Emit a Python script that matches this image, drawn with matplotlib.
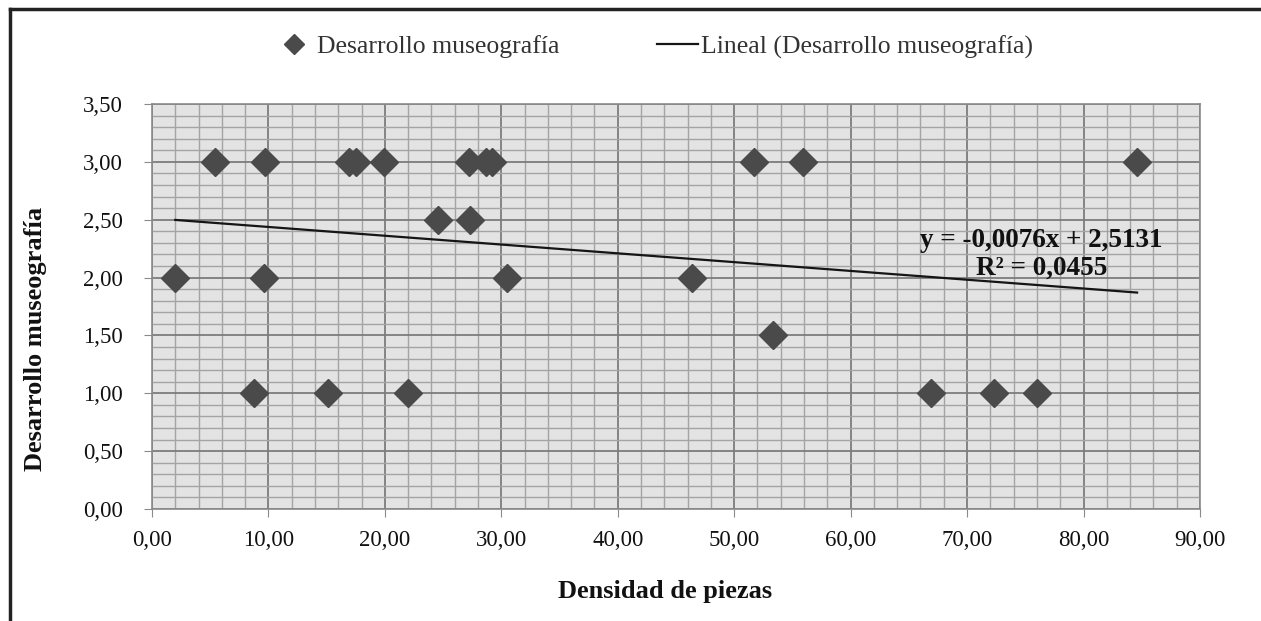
import matplotlib
matplotlib.use("Agg")
import matplotlib.pyplot as plt
from matplotlib.lines import Line2D
from matplotlib.ticker import MultipleLocator, FuncFormatter

# datos
densidad = [2.0, 5.4, 9.7, 9.6, 8.8, 16.9, 17.5, 19.9, 15.1, 22.0, 24.6, 27.3,
            27.2, 28.7, 29.2, 30.5, 46.4, 51.7, 53.3, 55.9, 66.9, 72.3, 76.0, 84.6]
museografia = [2.0, 3.0, 3.0, 2.0, 1.0, 3.0, 3.0, 3.0, 1.0, 1.0, 2.5, 2.5,
               3.0, 3.0, 3.0, 2.0, 2.0, 3.0, 1.5, 3.0, 1.0, 1.0, 1.0, 3.0]

# linea de tendencia (ecuacion del grafico)
pendiente = -0.0076
ordenada = 2.5131
r2 = 0.0455

serif = ["Liberation Serif", "DejaVu Serif"]
plt.rcParams["font.family"] = serif

def coma(v, pos=None):
    return f"{v:.2f}".replace(".", ",")

fig = plt.figure(figsize=(12.61, 6.21), dpi=100)
ax = fig.add_axes([0.1205, 0.1804, 0.8311, 0.6522])
ax.set_facecolor("#e3e3e3")

ax.set_xlim(0, 90)
ax.set_ylim(0, 3.5)
ax.xaxis.set_major_locator(MultipleLocator(10))
ax.xaxis.set_minor_locator(MultipleLocator(2))
ax.yaxis.set_major_locator(MultipleLocator(0.5))
ax.yaxis.set_minor_locator(MultipleLocator(0.1))
ax.xaxis.set_major_formatter(FuncFormatter(coma))
ax.yaxis.set_major_formatter(FuncFormatter(coma))

ax.set_axisbelow(True)
ax.grid(which="major", color="#7c7c7c", lw=1.3)
ax.grid(which="minor", color="#a4a4a4", lw=1.0)
for s in ax.spines.values():
    s.set_color("#8a8a8a")
    s.set_linewidth(1.2)
ax.tick_params(which="major", length=6, color="#8a8a8a", labelsize=16.5,
               labelcolor="#111111")
ax.tick_params(axis="y", pad=15)
ax.tick_params(axis="x", pad=9)
ax.tick_params(which="minor", length=0)

ax.plot(densidad, museografia, linestyle="none", marker="D", markersize=14,
        color="#4a4a4a", markeredgecolor="#4a4a4a")

xs = [min(densidad), max(densidad)]
ax.plot(xs, [pendiente * v + ordenada for v in xs], color="#151515", lw=1.6)

eq = f"y = {pendiente:.4f}x + {ordenada:.4f}".replace(".", ",")
ax.text(76.4, 2.2, eq + "\n" + f"R² = {r2:.4f}".replace(".", ","),
        ha="center", va="center", fontsize=19.5, fontweight="bold",
        color="#111111", linespacing=1.12)

ax.set_xlabel("Densidad de piezas", fontsize=19, fontweight="bold",
              color="#111111")
ax.set_ylabel("Desarrollo museografía", fontsize=19, fontweight="bold",
              color="#111111")
ax.xaxis.set_label_coords(0.49, -0.175)
ax.yaxis.set_label_coords(-0.1, 0.42)

handles = [
    Line2D([], [], linestyle="none", marker="D", markersize=10,
           color="#4a4a4a", label="Desarrollo museografía"),
    Line2D([], [], color="#151515", lw=1.6,
           label="Lineal (Desarrollo museografía)"),
]
fig.legend(handles=handles, loc="center", bbox_to_anchor=(0.518, 0.924),
           ncol=2, frameon=False, fontsize=18.5, handlelength=1.6,
           handletextpad=0.1, columnspacing=3.8, labelcolor="#333333")

# marco exterior (solo arriba e izquierda)
fig.add_artist(Line2D([10 / 1261, 1], [1 - 9 / 621, 1 - 9 / 621],
                      transform=fig.transFigure, color="#222222", lw=2.5))
fig.add_artist(Line2D([10 / 1261, 10 / 1261], [0, 1 - 9 / 621],
                      transform=fig.transFigure, color="#222222", lw=2.5))

fig.savefig("out.png", dpi=100)
